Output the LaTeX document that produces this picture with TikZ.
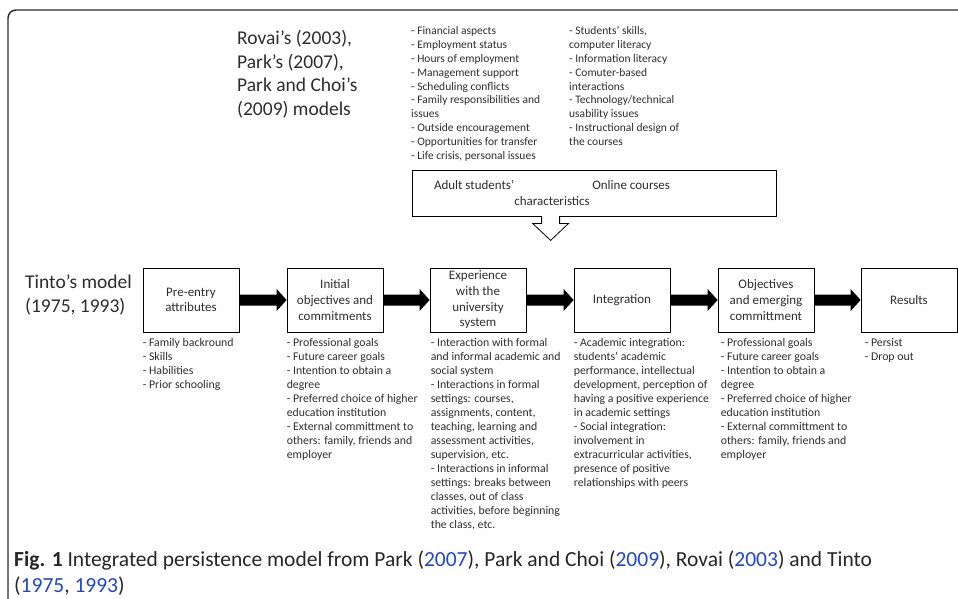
\documentclass[tikz,border=0pt]{standalone}
\usepackage{fontspec}
\setmainfont{Carlito}
\usetikzlibrary{calc}
\definecolor{citeblue}{RGB}{30,70,210}
\definecolor{txt}{RGB}{45,45,45}
\newcommand\fatarrow[2]{%
 \fill[black] ($(#1.east)+(0,-5.5)$) -- ($(#2.west)+(-10,-5.5)$) -- ($(#2.west)+(-10,-11)$) -- (#2.west) -- ($(#2.west)+(-10,11)$) -- ($(#2.west)+(-10,5.5)$) -- ($(#1.east)+(0,5.5)$) -- cycle;}
\tikzset{
 stage/.style={draw=black, line width=0.8pt, minimum width=96pt, minimum height=64pt, align=center, inner sep=0pt, text=txt, font=\fontsize{13}{15.7}\selectfont},
 itemlist/.style={anchor=north west, align=left, inner sep=0pt, text=txt, font=\fontsize{11.8}{14}\selectfont},
 toplist/.style={anchor=north west, align=left, inner sep=0pt, text=txt, font=\fontsize{11.5}{13.8}\selectfont},
 bigtext/.style={anchor=north west, align=left, inner sep=0pt, text=txt, font=\fontsize{19.5}{23.5}\selectfont},
 frameline/.style={line width=1.4pt, draw=black!85, rounded corners=8pt},
}
\begin{document}
\begin{tikzpicture}[x=1pt,y=-1pt]
\useasboundingbox (0,0) rectangle (958,598);
\draw[frameline] (8,600) -- (8,10) -- (960,10);

% top texts
\node[bigtext] (models) at (237,28) {\strut Rovai’s (2003),\\Park’s (2007),\\Park and Choi’s\\(2009) models};
\node[toplist] (adultlist) at (411,25) {\strut- Financial aspects\\- Employment status\\- Hours of employment\\- Management support\\- Scheduling conflicts\\- Family responsibilities and\\issues\\- Outside encouragement\\- Opportunities for transfer\\- Life crisis, personal issues};
\node[toplist] (onlinelist) at (569,25) {\strut- Students’ skills,\\computer literacy\\- Information literacy\\- Comuter-based\\interactions\\- Technology/technical\\usability issues\\- Instructional design of\\the courses};

% callout
\node[draw=black, line width=0.8pt, minimum width=364pt, minimum height=46pt, inner sep=0pt] (callout) at (594,193) {};
\node[inner sep=0pt, align=center, text=txt, font=\fontsize{13}{15.7}\selectfont] (callouttext) at (552,193) {Adult students’\hspace{78pt}Online courses\\characteristics};
\fill[white] ($(callout.south west)+(130.6,-1)$) rectangle ($(callout.south west)+(147.4,1)$);
\draw[line width=0.8pt, line join=miter] ($(callout.south west)+(130,0)$) -- ++(0,7) -- ++(-9,0) -- ++(18,17) -- ++(18,-17) -- ++(-9,0) -- ++(0,-7);

% Tinto
\node[bigtext] (tinto) at (25,272) {\strut Tinto’s model\\(1975, 1993)};

% stages
\node[stage] (s1) at (191,300) {Pre-entry\\attributes};
\node[stage] (s2) at (335,300) {Initial\\objectives and\\commitments};
\node[stage] (s3) at (478,300) {Experience\\with the\\university\\system};
\node[stage] (s4) at (622,300) {Integration};
\node[stage] (s5) at (766,300) {Objectives\\and emerging\\committment};
\node[stage] (s6) at (909,300) {Results};

\fatarrow{s1}{s2}
\fatarrow{s2}{s3}
\fatarrow{s3}{s4}
\fatarrow{s4}{s5}
\fatarrow{s5}{s6}

% lists
\node[itemlist] (l1) at ($(s1.south west)+(0,4)$) {\strut- Family backround\\- Skills\\- Habilities\\- Prior schooling};
\node[itemlist] (l2) at ($(s2.south west)+(0,4)$) {\strut- Professional goals\\- Future career goals\\- Intention to obtain a\\degree\\- Preferred choice of higher\\education institution\\- External committment to\\others: family, friends and\\employer};
\node[itemlist] (l3) at ($(s3.south west)+(1,4)$) {\strut- Interaction with formal\\and informal academic and\\social system\\- Interactions in formal\\settings: courses,\\assignments, content,\\teaching, learning and\\assessment activities,\\supervision, etc.\\- Interactions in informal\\settings: breaks between\\classes, out of class\\activities, before beginning\\the class, etc.};
\node[itemlist] (l4) at ($(s4.south west)+(0,4)$) {\strut- Academic integration:\\students’ academic\\performance, intellectual\\development, perception of\\having a positive experience\\in academic settings\\- Social integration:\\involvement in\\extracurricular activities,\\presence of positive\\relationships with peers};
\node[itemlist] (l5) at ($(s5.south west)+(3,4)$) {\strut- Professional goals\\- Future career goals\\- Intention to obtain a\\degree\\- Preferred choice of higher\\education institution\\- External committment to\\others: family, friends and\\employer};
\node[itemlist] (l6) at ($(s6.south west)+(4,4)$) {\strut- Persist\\- Drop out};

% caption
\node[anchor=base west, align=left, inner sep=0pt, text=black!85, font=\fontsize{21.5}{26}\selectfont] (caption) at (14,592) {{\bfseries Fig. 1} Integrated persistence model from Park (\textcolor{citeblue}{2007}), Park and Choi (\textcolor{citeblue}{2009}), Rovai (\textcolor{citeblue}{2003}) and Tinto\\(\textcolor{citeblue}{1975}, \textcolor{citeblue}{1993})};
\end{tikzpicture}
\end{document}
